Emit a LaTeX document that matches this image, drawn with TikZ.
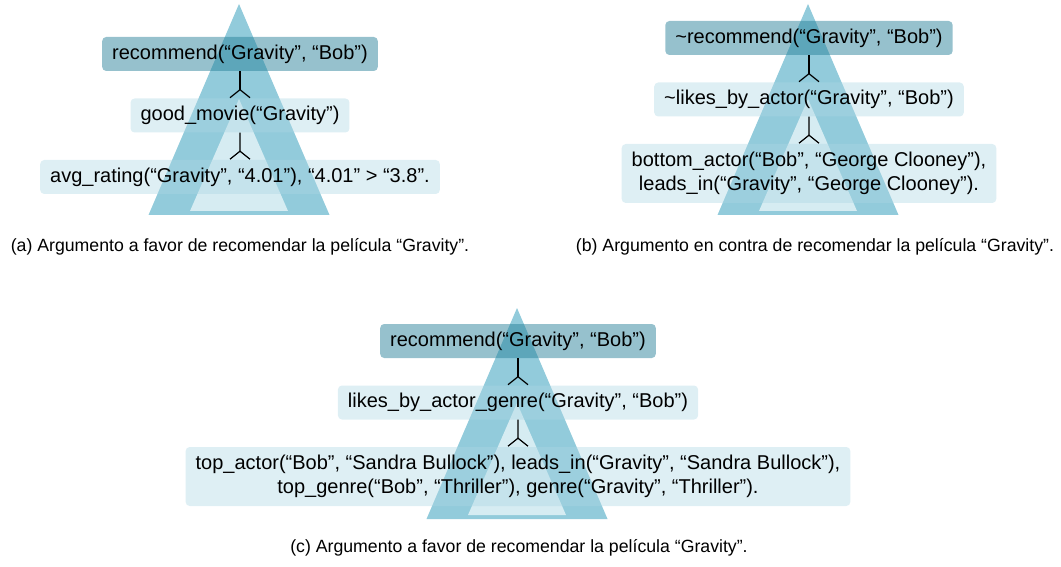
\documentclass[tikz,border=0pt]{standalone}
\usepackage{fontspec}
\setmainfont{Liberation Sans}
\usepackage{xcolor}
\usepackage{tikz}
\usetikzlibrary{arrows.meta}
\definecolor{tribl}{RGB}{146,203,219}
\definecolor{trilt}{RGB}{214,236,242}
\definecolor{boxdk}{RGB}{36,126,151}
\definecolor{boxlt}{RGB}{172,215,228}
\newcommand{\argfont}{\fontsize{20}{24}\selectfont}
\newcommand{\capfont}{\fontsize{17.7}{21}\selectfont}
\tikzset{
	claim node/.style={rectangle,rounded corners=4pt,fill=boxdk,fill opacity=0.48,text opacity=1,
		inner xsep=10pt,inner ysep=0pt,minimum height=34pt,font=\argfont},
	fact node/.style={rectangle,rounded corners=4pt,fill=boxlt,fill opacity=0.4,text opacity=1,
		inner xsep=10pt,inner ysep=0pt,minimum height=34pt,font=\argfont,align=center},
	outer tri/.style={fill=tribl},
	inner tri/.style={fill=trilt},
	caption/.style={font=\capfont}
}

\begin{document}
\begin{tikzpicture}[x=1pt,y=1pt,
	  level 1/.style={level distance=61.5pt},
	  level 2/.style={level distance=61.5pt},
	  edge from parent/.style={draw,line width=1.2pt,-{Straight Barb[reversed,length=8pt,width=20pt]}}]
	\useasboundingbox (0,0) rectangle (1061,566);
	\fill[outer tri] (239,562) -- (148.5,351) -- (329.5,351) -- cycle;
	\fill[inner tri] (239,467) -- (190,355) -- (288,355) -- cycle;
	\fill[outer tri] (808,562) -- (717.5,351) -- (898.5,351) -- cycle;
	\fill[inner tri] (808,467) -- (759,355) -- (857,355) -- cycle;
	\fill[outer tri] (517,258) -- (426.5,47) -- (607.5,47) -- cycle;
	\fill[inner tri] (517,163) -- (468,51) -- (566,51) -- cycle;
	\node [claim node] (ra) at (240,512) {recommend(“Gravity”, “Bob”)}
	  child {node [fact node] (ga) {good\_movie(“Gravity”)}
	    child {node [fact node] (aa) {avg\_rating(“Gravity”, “4.01”), “4.01” > “3.8”.}}
	  };
	\node [claim node] (rb) at (809,528) {\textasciitilde recommend(“Gravity”, “Bob”)}
	  child {node [fact node] (lb) {\textasciitilde likes\_by\_actor(“Gravity”, “Bob”)}
	    child[level distance=74pt] {node [fact node,minimum height=59pt] (bb) {bottom\_actor(“Bob”, “George Clooney”),\\ leads\_in(“Gravity”, “George Clooney”).}}
	  };
	\node [claim node] (rc) at (518,225) {recommend(“Gravity”, “Bob”)}
	  child {node [fact node] (lc) {likes\_by\_actor\_genre(“Gravity”, “Bob”)}
	    child[level distance=74pt] {node [fact node,minimum height=59pt] (tc) {top\_actor(“Bob”, “Sandra Bullock”), leads\_in(“Gravity”, “Sandra Bullock”),\\ top\_genre(“Bob”, “Thriller”), genre(“Gravity”, “Thriller”).}}
	  };
	\node [caption] (capa) at (240,319) {(a) Argumento a favor de recomendar la película “Gravity”.};
	\node [caption] (capb) at (815,319) {(b) Argumento en contra de recomendar la película “Gravity”.};
	\node [caption] (capc) at (519,18) {(c) Argumento a favor de recomendar la película “Gravity”.};
\end{tikzpicture}
\end{document}
